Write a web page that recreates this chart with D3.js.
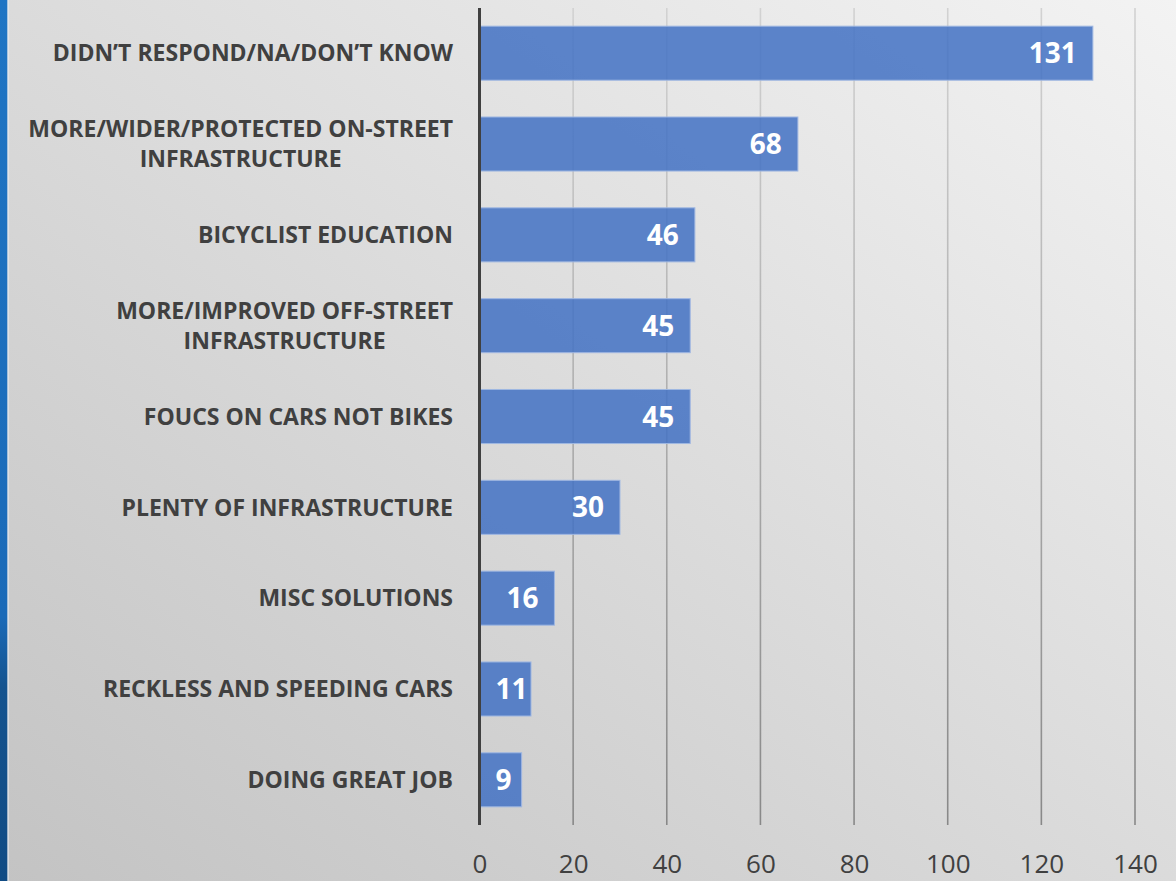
<!DOCTYPE html>
<html><head><meta charset="utf-8">
<script src="https://cdn.jsdelivr.net/npm/d3@7"></script>
<style>html,body{margin:0;padding:0;overflow:hidden;}svg{display:block;}</style>
</head><body>
<script>
const categories = [
  ["DIDN\u2019T RESPOND/NA/DON\u2019T KNOW"],
  ["MORE/WIDER/PROTECTED ON-STREET", "INFRASTRUCTURE"],
  ["BICYCLIST EDUCATION"],
  ["MORE/IMPROVED OFF-STREET", "INFRASTRUCTURE"],
  ["FOUCS ON CARS NOT BIKES"],
  ["PLENTY OF INFRASTRUCTURE"],
  ["MISC SOLUTIONS"],
  ["RECKLESS AND SPEEDING CARS"],
  ["DOING GREAT JOB"]
];
const values = [131, 68, 46, 45, 45, 30, 16, 11, 9];
const tickValues = [0, 20, 40, 60, 80, 100, 120, 140];

const W = 1176, H = 881;
const svg = d3.select("body").append("svg").attr("width", W).attr("height", H);
const defs = svg.append("defs");

const bg = defs.append("linearGradient").attr("id","bg").attr("x1","1").attr("y1","0").attr("x2","0").attr("y2","1");
bg.append("stop").attr("offset","0").attr("stop-color","#f3f3f3");
bg.append("stop").attr("offset","1").attr("stop-color","#c3c3c3");

const strip = defs.append("linearGradient").attr("id","strip").attr("x1","0").attr("y1","0").attr("x2","0").attr("y2","1");
strip.append("stop").attr("offset","0").attr("stop-color","#1f75c4");
strip.append("stop").attr("offset","0.7").attr("stop-color","#1a6ab8");
strip.append("stop").attr("offset","0.78").attr("stop-color","#14538f");
strip.append("stop").attr("offset","1").attr("stop-color","#104b84");

const grid = defs.append("linearGradient").attr("id","grid").attr("gradientUnits","userSpaceOnUse")
  .attr("x1",0).attr("y1",8).attr("x2",0).attr("y2",825);
grid.append("stop").attr("offset","0").attr("stop-color","#d2d2d2");
grid.append("stop").attr("offset","1").attr("stop-color","#888888");

svg.append("rect").attr("width",W).attr("height",H).attr("fill","url(#bg)");
svg.append("rect").attr("x",0).attr("y",0).attr("width",7.5).attr("height",H).attr("fill","url(#strip)");
svg.append("rect").attr("x",7.5).attr("y",0).attr("width",1.2).attr("height",H).attr("fill","#e8eef4").attr("opacity",0.8);

const x = d3.scaleLinear().domain([0,140]).range([479.5, 1135]);
const y = d3.scaleBand().domain(d3.range(values.length)).range([8, 825]).paddingInner(0.405).paddingOuter(0.2);

// gridlines
svg.append("g").selectAll("line").data(tickValues.filter(t=>t>0)).join("line")
  .attr("x1", d=>x(d)).attr("x2", d=>x(d)).attr("y1", 8).attr("y2", 825)
  .attr("stroke","url(#grid)").attr("stroke-width",1.6);

// bars
svg.append("g").selectAll("rect").data(values).join("rect")
  .attr("x", x(0)).attr("y", (d,i)=>y(i))
  .attr("width", d=>x(d)-x(0)).attr("height", y.bandwidth())
  .attr("fill","#4472c4").attr("fill-opacity",0.86)
  .attr("stroke","#9fb7e2").attr("stroke-width",1);

// value labels
const vl = svg.append("g").selectAll("text").data(values).join("text")
  .attr("y", (d,i)=>y(i)+y.bandwidth()/2)
  .attr("dy","0.36em").attr("text-anchor","end")
  .attr("font-family","'Open Sans', sans-serif").attr("font-weight",700)
  .attr("font-size",28).attr("fill","#ffffff")
  .text(d=>d);
vl.each(function(d){
  const w = this.getComputedTextLength();
  d3.select(this).attr("x", Math.max(x(d)-16, x(0)+16+w));
});

// axis line
svg.append("line").attr("x1",x(0)).attr("x2",x(0)).attr("y1",8).attr("y2",825)
  .attr("stroke","#404040").attr("stroke-width",3);

// x axis tick labels
const xAxis = d3.axisBottom(x).tickValues(tickValues).tickSize(0).tickPadding(0);
const gx = svg.append("g").attr("transform","translate(0,864)").call(xAxis);
gx.select(".domain").remove();
gx.selectAll("text").attr("dy","0.36em").attr("font-family","'Open Sans', sans-serif")
  .attr("font-size",26).attr("fill","#404040");

// category labels
const labelRight = 453;
const lg = svg.append("g").attr("font-family","'Open Sans', sans-serif").attr("font-weight",700)
  .attr("font-size",23).attr("fill","#404040");
categories.forEach((lines,i)=>{
  const cy = y(i)+y.bandwidth()/2;
  const lh = 30;
  const t = lg.append("text").attr("text-anchor","middle");
  const spans = lines.map((s,k)=>t.append("tspan").attr("y", cy + (k - (lines.length-1)/2)*lh).attr("dy","0.36em").text(s));
  let maxW = 0;
  spans.forEach(sp=>{maxW=Math.max(maxW, sp.node().getComputedTextLength());});
  spans.forEach(sp=>sp.attr("x", labelRight - maxW/2));
});
</script>
</body></html>
